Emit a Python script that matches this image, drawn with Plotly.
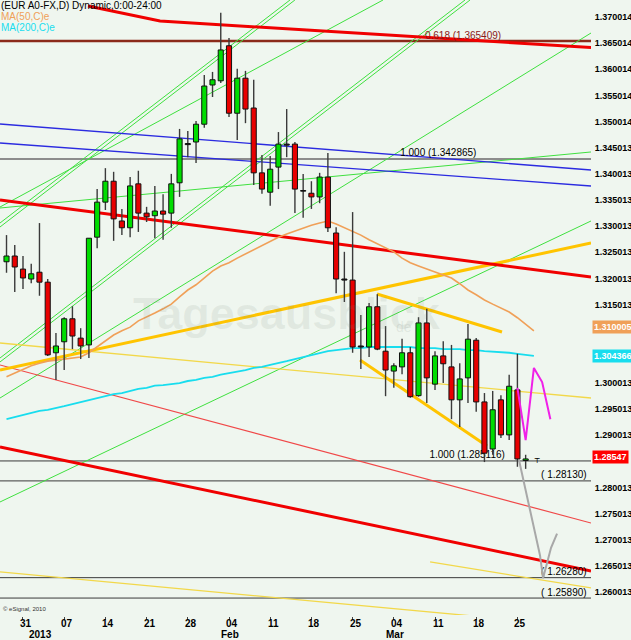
import datetime as dt
import plotly.graph_objects as go

# ---------------- data ----------------
dates = ["2012-12-27", "2012-12-28", "2012-12-31",
         "2013-01-01", "2013-01-02", "2013-01-03", "2013-01-04",
         "2013-01-07", "2013-01-08", "2013-01-09", "2013-01-10", "2013-01-11",
         "2013-01-14", "2013-01-15", "2013-01-16", "2013-01-17", "2013-01-18",
         "2013-01-21", "2013-01-22", "2013-01-23", "2013-01-24", "2013-01-25",
         "2013-01-28", "2013-01-29", "2013-01-30", "2013-01-31", "2013-02-01",
         "2013-02-04", "2013-02-05", "2013-02-06", "2013-02-07", "2013-02-08",
         "2013-02-11", "2013-02-12", "2013-02-13", "2013-02-14", "2013-02-15",
         "2013-02-18", "2013-02-19", "2013-02-20", "2013-02-21", "2013-02-22",
         "2013-02-25", "2013-02-26", "2013-02-27", "2013-02-28", "2013-03-01",
         "2013-03-04", "2013-03-05", "2013-03-06", "2013-03-07", "2013-03-08",
         "2013-03-11", "2013-03-12", "2013-03-13", "2013-03-14", "2013-03-15",
         "2013-03-18", "2013-03-19", "2013-03-20", "2013-03-21", "2013-03-22",
         "2013-03-25", "2013-03-26"]

opens = [1.3232, 1.3243, 1.3218, 1.3199, 1.3212, 1.3193, 1.3058,
         1.3079, 1.3123, 1.3086, 1.3073, 1.3279,
         1.3346, 1.3386, 1.3310, 1.3297, 1.3381,
         1.3325, 1.3320, 1.3329, 1.3325, 1.3383,
         1.3458, 1.3461, 1.3495, 1.3570, 1.3578,
         1.3645, 1.3516, 1.3583, 1.3526, 1.3402,
         1.3365, 1.3413, 1.3457, 1.3457, 1.3367,
         1.3363, 1.3356, 1.3394, 1.3287, 1.3199,
         1.3197, 1.3069, 1.3069, 1.3146, 1.3061,
         1.3023, 1.3031, 1.3058, 1.2976, 1.3115,
         1.2998, 1.3052, 1.3031, 1.2968, 1.3010,
         1.3082, 1.2964, 1.2874, 1.2968, 1.2901,
         1.2987, 1.2852]
highs = [1.3283, 1.3264, 1.3243, 1.3228, 1.3306, 1.3199, 1.3096,
         1.3126, 1.3147, 1.3105, 1.3277, 1.3371,
         1.3411, 1.3404, 1.3333, 1.3394, 1.3406,
         1.3337, 1.3377, 1.3361, 1.3400, 1.3486,
         1.3482, 1.3501, 1.3589, 1.3595, 1.3708,
         1.3660, 1.3601, 1.3597, 1.3580, 1.3436,
         1.3434, 1.3480, 1.3524, 1.3461, 1.3400,
         1.3386, 1.3402, 1.3440, 1.3298, 1.3251,
         1.3327, 1.3130, 1.3153, 1.3170, 1.3109,
         1.3038, 1.3085, 1.3069, 1.3126, 1.3142,
         1.3061, 1.3080, 1.3073, 1.3038, 1.3113,
         1.3086, 1.2981, 1.2985, 1.2977, 1.3016,
         1.3056, 1.2863]
lows = [1.3211, 1.3174, 1.3180, 1.3191, 1.3167, 1.3052, 1.3006,
        1.3025, 1.3065, 1.3046, 1.3048, 1.3258,
        1.3331, 1.3272, 1.3283, 1.3279, 1.3289,
        1.3308, 1.3277, 1.3274, 1.3297, 1.3356,
        1.3432, 1.3421, 1.3488, 1.3547, 1.3574,
        1.3509, 1.3465, 1.3497, 1.3379, 1.3362,
        1.3339, 1.3371, 1.3432, 1.3325, 1.3316,
        1.3333, 1.3344, 1.3289, 1.3172, 1.3155,
        1.3058, 1.3027, 1.3050, 1.3063, 1.2975,
        1.2991, 1.3017, 1.2972, 1.2974, 1.2962,
        1.2987, 1.3000, 1.2931, 1.2916, 1.2962,
        1.2945, 1.2849, 1.2863, 1.2895, 1.2891,
        1.2840, 1.2836]
closes = [1.3243, 1.3222, 1.3201, 1.3209, 1.3193, 1.3054, 1.3071,
          1.3123, 1.3090, 1.3071, 1.3277, 1.3346,
          1.3386, 1.3314, 1.3297, 1.3377, 1.3325,
          1.3318, 1.3329, 1.3323, 1.3381, 1.3467,
          1.3456, 1.3495, 1.3568, 1.3580, 1.3637,
          1.3516, 1.3583, 1.3524, 1.3402, 1.3371,
          1.3409, 1.3457, 1.3455, 1.3371, 1.3368,
          1.3356, 1.3394, 1.3297, 1.3199, 1.3197,
          1.3069, 1.3071, 1.3146, 1.3065, 1.3025,
          1.3033, 1.3058, 1.2974, 1.3115, 1.3010,
          1.3052, 1.3037, 1.2968, 1.3008, 1.3084,
          1.2964, 1.2866, 1.2949, 1.2901, 1.2994,
          1.2855, 1.2855]

ma50 = [1.3012, 1.3019, 1.3027, 1.3033, 1.3038, 1.3042, 1.3044, 1.3046, 1.3048, 1.3050,
        1.3058, 1.3069, 1.3081, 1.3092, 1.3100, 1.3107, 1.3119, 1.3126, 1.3134, 1.3142,
        1.3151, 1.3165, 1.3178, 1.3188, 1.3201, 1.3214, 1.3224, 1.3230, 1.3239, 1.3247,
        1.3256, 1.3264, 1.3272, 1.3279, 1.3285, 1.3291, 1.3297, 1.3302, 1.3306, 1.3310,
        1.3304, 1.3297, 1.3291, 1.3283, 1.3274, 1.3266, 1.3258, 1.3251, 1.3239, 1.3230,
        1.3224, 1.3218, 1.3212, 1.3207, 1.3201, 1.3190, 1.3178, 1.3169, 1.3159, 1.3151,
        1.3144, 1.3136, 1.3125, 1.3113, 1.3100]
ma200 = [1.2931, 1.2935, 1.2939, 1.2943, 1.2947, 1.2949, 1.2952, 1.2956, 1.2960, 1.2964,
         1.2968, 1.2972, 1.2975, 1.2979, 1.2981, 1.2985, 1.2989, 1.2991, 1.2995, 1.2996,
         1.2998, 1.3000, 1.3004, 1.3006, 1.3010, 1.3012, 1.3016, 1.3019, 1.3021, 1.3025,
         1.3029, 1.3031, 1.3035, 1.3038, 1.3042, 1.3046, 1.3050, 1.3054, 1.3058, 1.3061,
         1.3063, 1.3065, 1.3067, 1.3067, 1.3069, 1.3069, 1.3069, 1.3069, 1.3069, 1.3069,
         1.3067, 1.3067, 1.3067, 1.3065, 1.3065, 1.3065, 1.3063, 1.3063, 1.3061, 1.3060,
         1.3060, 1.3058, 1.3056, 1.3054, 1.3052]

# trend lines: (bar index start, price start, bar index end, price end)
green_lines = [(-0.79, 1.33061, 34.40, 1.37325), (-0.79, 1.32985, 35.00, 1.37325),
               (-0.79, 1.30480, 55.64, 1.37325), (-0.79, 1.30404, 56.25, 1.37325),
               (-0.79, 1.29715, 70.93, 1.36694), (-0.79, 1.33367, 45.69, 1.37325),
               (-0.79, 1.27727, 70.93, 1.33100), (-0.79, 1.33348, 70.93, 1.34419)]
blue_lines = [(-0.79, 1.34954, 70.93, 1.34075), (-0.79, 1.34591, 70.93, 1.33769)]
red_thick_lines = [(-0.79, 1.33501, 70.93, 1.32029), (-0.79, 1.28778, 70.93, 1.26408)]
red_top_x = [9.89, 18.63, 70.93]
red_top_y = [1.37210, 1.36923, 1.36417]
red_thin_lines = [(-0.79, 1.30346, 70.93, 1.27325)]
gold_thick_lines = [(-0.79, 1.30251, 70.93, 1.32679), (44.96, 1.31704, 60.13, 1.30977),
                    (42.90, 1.30442, 58.31, 1.28797)]
yellow_thin_lines = [(-0.79, 1.30767, 70.93, 1.29715), (-0.79, 1.26389, 70.93, 1.25337),
                     (51.40, 1.26580, 70.93, 1.26083)]

fib_levels = [1.365409, 1.342865, 1.285116]
fib_texts = ["0.618 (1.365409)", "1.000 (1.342865)", "1.000 (1.285116)"]
fib_text_x = [55.4, 52.4, 55.9]
target_levels = [1.28130, 1.26280, 1.25890]
target_texts = ["( 1.28130)", "( 1.26280)", "( 1.25890)"]

proj_magenta_x = [62, 63, 64, 65, 66]
proj_magenta_y = [1.2991, 1.2891, 1.3029, 1.3002, 1.2931]
proj_gray_x = [62.19, 63.17, 64.74, 65.11, 66.08, 66.81]
proj_gray_y = [1.2853, 1.2782, 1.2671, 1.2627, 1.2685, 1.2712]

ytick_vals = [1.260013, 1.265013, 1.270013, 1.275013, 1.280013, 1.290013, 1.295013,
              1.300013, 1.315013, 1.320013, 1.325013, 1.330013, 1.335013, 1.340013,
              1.345013, 1.350014, 1.355014, 1.360014, 1.365014, 1.370014]
period_labels = ["2013", "Feb", "Mar"]
period_pos = [4.1, 27.1, 47.1]
last_close = 1.28547
ma50_last = 1.310005
ma200_last = 1.304366

X0, X1 = -0.79, 70.93
Y0, Y1 = 1.25566, 1.37325
BG = "#EFF6EF"
FONT = "Arial, Liberation Sans, sans-serif"

# ---------------- figure ----------------
fig = go.Figure()
xs = list(range(len(dates)))


def add_lines(lines, color, width, z=0):
    lx, ly = [], []
    for a, b, c, d in lines:
        lx += [a, c, None]
        ly += [b, d, None]
    fig.add_trace(go.Scatter(x=lx, y=ly, mode="lines", line=dict(color=color, width=width),
                             hoverinfo="skip", zorder=z))


# horizontal levels
for lv in fib_levels[1:] + target_levels:
    add_lines([(X0, lv, X1, lv)], "#3a3a3a", 1)
add_lines([(X0, fib_levels[1], X1, fib_levels[1])], "#8c8c8c", 2)
add_lines([(X0, fib_levels[0], X1, fib_levels[0])], "#8B2A1A", 2.5)

add_lines(green_lines, "#3FE03F", 1)
add_lines(blue_lines, "#2B2BE0", 1.3)
add_lines(red_thin_lines, "#F04848", 1.2)
add_lines(yellow_thin_lines, "#F2D84A", 1.3)
add_lines(gold_thick_lines, "#FFC400", 3)
add_lines(red_thick_lines, "#F00000", 3)
fig.add_trace(go.Scatter(x=red_top_x, y=red_top_y, mode="lines",
                         line=dict(color="#F00000", width=3), hoverinfo="skip", zorder=0))

# moving averages
fig.add_trace(go.Scatter(x=list(range(len(ma50))), y=ma50, mode="lines",
                         line=dict(color="#F0A058", width=1.6), hoverinfo="skip", zorder=0))
fig.add_trace(go.Scatter(x=list(range(len(ma200))), y=ma200, mode="lines",
                         line=dict(color="#18DDEE", width=1.8), hoverinfo="skip", zorder=0))

# level labels (under candles)
fig.add_trace(go.Scatter(x=fib_text_x, y=fib_levels, mode="text", text=fib_texts,
                         textposition="top center",
                         textfont=dict(family=FONT, size=10, color=["#8B1A1A", "black", "black"]),
                         hoverinfo="skip", zorder=0))
fig.add_trace(go.Scatter(x=[70.4] * 3, y=target_levels, mode="text", text=target_texts,
                         textposition="top left",
                         textfont=dict(family=FONT, size=10, color="black"),
                         hoverinfo="skip", zorder=0))

# candles: wicks
wx, wy = [], []
for i in xs:
    wx += [i, i, None]
    wy += [lows[i], highs[i], None]
fig.add_trace(go.Scatter(x=wx, y=wy, mode="lines", line=dict(color="#3a3a3a", width=1.4),
                         hoverinfo="skip", zorder=1))

# candles: bodies
base, height, colors = [], [], []
for i in xs:
    o, c = opens[i], closes[i]
    base.append(min(o, c))
    height.append(max(abs(c - o), 0.00012))
    if abs(c - o) < 0.0003:
        colors.append("#202020")
    else:
        colors.append("#00DD00" if c > o else "#E80000")
fig.add_trace(go.Bar(x=xs, y=height, base=base, width=0.62,
                     marker=dict(color=colors, line=dict(color="#111111", width=1)),
                     hoverinfo="skip", zorder=2))

# projections
fig.add_trace(go.Scatter(x=proj_gray_x, y=proj_gray_y, mode="lines",
                         line=dict(color="#A8A8A8", width=2), hoverinfo="skip", zorder=3))
fig.add_trace(go.Scatter(x=proj_magenta_x, y=proj_magenta_y, mode="lines",
                         line=dict(color="#F020E8", width=2), hoverinfo="skip", zorder=3))
fig.add_trace(go.Scatter(x=[64.4], y=[last_close], mode="text", text=["┬"],
                         textfont=dict(family="DejaVu Sans", size=8, color="black"),
                         hoverinfo="skip", zorder=3))

# x ticks: Mondays (and Dec 31)
tickvals, ticktext = [], []
for i, d in enumerate(dates):
    dd = dt.date.fromisoformat(d)
    if dd.weekday() == 0:
        tickvals.append(i)
        ticktext.append(dd.strftime("%d"))

annotations = [
    dict(text="(EUR A0-FX,D) Dynamic,0:00-24:00", x=0, y=1, xref="paper", yref="paper",
         xanchor="left", yanchor="top", showarrow=False, yshift=1,
         font=dict(family=FONT, size=10, color="black"), borderpad=0),
    dict(text="MA(50,C)e", x=0, y=1, xref="paper", yref="paper", xanchor="left",
         yanchor="top", showarrow=False, yshift=-10,
         font=dict(family=FONT, size=10, color="#F0A058"), borderpad=0),
    dict(text="MA(200,C)e", x=0, y=1, xref="paper", yref="paper", xanchor="left",
         yanchor="top", showarrow=False, yshift=-21,
         font=dict(family=FONT, size=10, color="#18DDEE"), borderpad=0),
    dict(text="<b>Tagesausblick</b>", x=0.485, y=0.49, xref="paper", yref="paper",
         showarrow=False, font=dict(family=FONT, size=45, color="rgba(120,135,120,0.12)")),
    dict(text="de", x=0.70, y=0.468, xref="paper", yref="paper",
         showarrow=False, font=dict(family=FONT, size=14, color="rgba(120,135,120,0.14)")),
    dict(text="© eSignal, 2010", x=0, y=0, xref="paper", yref="paper", xanchor="left",
         yanchor="bottom", showarrow=False, xshift=1, yshift=1,
         font=dict(family=FONT, size=6, color="#333333")),
]
for tv, tt in zip(tickvals, ticktext):
    annotations.append(dict(text=tt, x=tv, y=0, xref="x", yref="paper", yanchor="top",
                            showarrow=False, xshift=3, yshift=-1,
                            font=dict(family=FONT, size=10, color="black", weight="bold")))
for txt, xv in zip(period_labels, period_pos):
    annotations.append(dict(text=txt, x=xv, y=0, xref="x", yref="paper", yanchor="top",
                            showarrow=False, yshift=-12,
                            font=dict(family=FONT, size=10, color="black", weight="bold")))
for val, bg, sh in [(ma50_last, "#F0A058", 4), (ma200_last, "#18DDEE", 4), (last_close, "#FF0000", 2)]:
    annotations.append(dict(text=f"{val:.6f}".rstrip("0") if val == last_close else f"{val:.6f}",
                            x=1, y=val, xref="paper", yref="y", xanchor="left",
                            showarrow=False, xshift=1, yshift=sh, bgcolor=bg, borderpad=1,
                            font=dict(family=FONT, size=9, color="white", weight="bold")))

fig.update_layout(
    width=631, height=640,
    margin=dict(l=0, r=40, t=0, b=25),
    plot_bgcolor=BG, paper_bgcolor=BG,
    showlegend=False, hovermode=False, barmode="overlay",
    annotations=annotations,
    xaxis=dict(range=[X0, X1], showgrid=False, zeroline=False, tickvals=tickvals,
               showticklabels=False, ticks="outside", ticklen=3, tickcolor="#444",
               showline=True, linecolor="#7a7a7a", linewidth=2),
    yaxis=dict(range=[Y0, Y1], side="right", showgrid=False, zeroline=False,
               tickvals=ytick_vals, ticktext=[f"{v:.6f}" for v in ytick_vals], ticks="",
               showline=True, linecolor="#7a7a7a", linewidth=2,
               tickfont=dict(family=FONT, size=9, color="black", weight="bold")),
)

fig.write_html("out.html", config={"displayModeBar": False},
               post_script="document.body.style.margin='0px';")
